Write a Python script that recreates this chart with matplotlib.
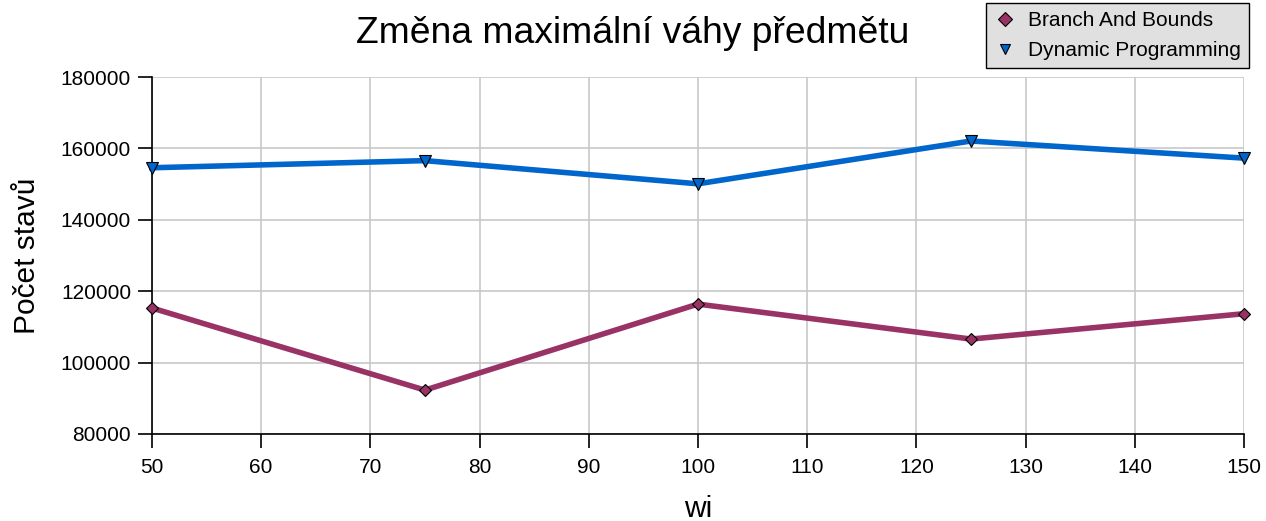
import matplotlib
matplotlib.use("Agg")
import matplotlib.pyplot as plt

plt.rcParams['font.family'] = ['Liberation Sans', 'DejaVu Sans']

# Data
wi = [50, 75, 100, 125, 150]
branch_and_bounds = [115300, 92300, 116400, 106600, 113700]
dynamic_programming = [154600, 156600, 150100, 162100, 157300]

fig = plt.figure(figsize=(12.66, 5.21), dpi=100)
ax = fig.add_axes([0.120, 0.167, 0.8626, 0.685])

ax.plot(wi, branch_and_bounds, color='#993366', lw=4, marker='D', markersize=6,
        markerfacecolor='#993366', markeredgecolor='black', markeredgewidth=0.8,
        label='Branch And Bounds', zorder=3, clip_on=False)
ax.plot(wi, dynamic_programming, color='#0066cc', lw=4, marker='v', markersize=8,
        markerfacecolor='#0066cc', markeredgecolor='black', markeredgewidth=0.8,
        label='Dynamic Programming', zorder=3, clip_on=False)

# Axes settings
ax.set_xlim(50, 150)
ax.set_ylim(80000, 180000)
ax.set_xticks(range(50, 151, 10))
ax.set_yticks(range(80000, 180001, 20000))
ax.grid(True, color='#c8c8c8', lw=1.2)
ax.set_axisbelow(True)
for s in ['top', 'right']:
    ax.spines[s].set_visible(False)
ax.spines['left'].set_linewidth(1.2)
ax.spines['bottom'].set_linewidth(1.2)
ax.tick_params(direction='out', length=10, width=1.2, labelsize=15)
ax.tick_params(axis='x', pad=7)
ax.tick_params(axis='y', pad=5)
ax.set_xlabel('wi', fontsize=21.5, labelpad=13)
ax.set_ylabel('Počet stavů', fontsize=21.5, labelpad=14)

fig.text(0.5, 0.935, 'Změna maximální váhy předmětu', fontsize=26.8,
         ha='center', va='center')

leg = fig.legend(loc='upper right', bbox_to_anchor=(0.9866, 0.994), fontsize=15,
                 frameon=True, fancybox=False, borderpad=0.4, handlelength=1.0,
                 handletextpad=0.6, labelspacing=0.5, borderaxespad=0)
leg.get_frame().set_facecolor('#e0e0e0')
leg.get_frame().set_edgecolor('black')
leg.get_frame().set_alpha(1)
leg.get_frame().set_linewidth(1.0)
for h in leg.legend_handles:
    h.set_linestyle('none')
    h.set_markersize(7)

fig.savefig('out.png', dpi=100)
